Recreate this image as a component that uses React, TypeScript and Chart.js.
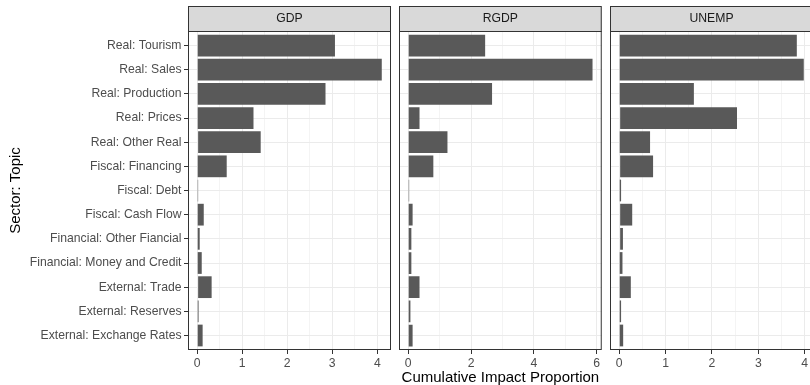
import React, { useEffect, useRef } from 'react';
import { Chart, registerables } from 'chart.js';

Chart.register(...registerables);

// ---- Data ----
const categories = [
  'Real: Tourism',
  'Real: Sales',
  'Real: Production',
  'Real: Prices',
  'Real: Other Real',
  'Fiscal: Financing',
  'Fiscal: Debt',
  'Fiscal: Cash Flow',
  'Financial: Other Fiancial',
  'Financial: Money and Credit',
  'External: Trade',
  'External: Reserves',
  'External: Exchange Rates',
];

const panelTitles = ['GDP', 'RGDP', 'UNEMP'];

const gdpValues = [3.06, 4.1, 2.85, 1.25, 1.41, 0.655, 0.02, 0.145, 0.055, 0.1, 0.32, 0.03, 0.12];
const gdpStarts = [0, 0, 0, 0, 0.02, 0, 0, 0, 0, 0, 0.02, 0, 0];

const rgdpValues = [2.45, 5.87, 2.67, 0.36, 1.25, 0.8, 0.03, 0.14, 0.1, 0.1, 0.36, 0.07, 0.14];
const rgdpStarts = [0, 0, 0, 0, 0, 0, 0, 0, 0, 0, 0, 0, 0];

const unempValues = [3.83, 3.98, 1.61, 2.54, 0.665, 0.73, 0.04, 0.28, 0.08, 0.07, 0.25, 0.04, 0.085];
const unempStarts = [0, 0, 0, 0.02, 0, 0.02, 0, 0.02, 0.02, 0, 0, 0, 0];

const gdpMajorTicks = [0, 1, 2, 3, 4];
const gdpMinorTicks = [0.5, 1.5, 2.5, 3.5];
const rgdpMajorTicks = [0, 2, 4, 6];
const rgdpMinorTicks = [1, 3, 5];
const unempMajorTicks = [0, 1, 2, 3, 4];
const unempMinorTicks = [0.5, 1.5, 2.5, 3.5];

const yAxisTitle = 'Sector: Topic';
const xAxisTitle = 'Cumulative Impact Proportion';

// ---- Styling ----
const FONT = 'Liberation Sans, Arial, Helvetica, sans-serif';
const TICK_SIZE = 12.2;
const TITLE_SIZE = 15;

function stripPlugin(title: string) {
  return {
    id: 'strip_' + title,
    afterDraw(chart: any) {
      const { ctx, chartArea } = chart;
      const { left, right, top, bottom } = chartArea;
      ctx.save();
      // strip
      ctx.fillStyle = '#d9d9d9';
      ctx.fillRect(left, 6, right - left, top - 6);
      ctx.strokeStyle = '#333333';
      ctx.lineWidth = 1;
      ctx.strokeRect(left + 0.5, 6.5, right - left - 1, top - 6);
      ctx.fillStyle = '#1a1a1a';
      ctx.font = `${TICK_SIZE}px ${FONT}`;
      ctx.textAlign = 'center';
      ctx.textBaseline = 'middle';
      ctx.fillText(title, (left + right) / 2, (6 + top) / 2 + 0.5);
      // panel border
      ctx.strokeRect(left + 0.5, top + 0.5, right - left - 1, bottom - top - 1);
      ctx.restore();
    },
  };
}

type PanelProps = {
  title: string;
  values: number[];
  starts: number[];
  major: number[];
  minor: number[];
  showY: boolean;
  showXTitle: boolean;
  left: number;
  width: number;
  yWidth: number;
  padRight: number;
};

function Panel(p: PanelProps) {
  const ref = useRef<HTMLCanvasElement | null>(null);
  useEffect(() => {
    if (!ref.current) return;
    const maxV = Math.max(...p.values);
    const expand = maxV * 0.05;
    const allTicks = [...p.major, ...p.minor].sort((a, b) => a - b);
    const chart = new Chart(ref.current, {
      type: 'bar',
      data: {
        datasets: [
          {
            data: p.values.map((v, i) => ({ x: [p.starts[i], v], y: i })) as any,
            backgroundColor: '#595959',
            borderWidth: 0,
            barPercentage: 0.9,
            categoryPercentage: 1,
          },
        ],
      },
      options: {
        animation: false,
        responsive: false,
        maintainAspectRatio: false,
        devicePixelRatio: 1,
        indexAxis: 'y',
        layout: { padding: { top: 31, left: 0, right: p.padRight, bottom: 0 } },
        plugins: { legend: { display: false }, tooltip: { enabled: false } },
        scales: {
          x: {
            type: 'linear',
            position: 'bottom',
            min: -expand,
            max: maxV + expand,
            offset: false,
            afterBuildTicks: (s: any) => {
              s.ticks = allTicks.map((v) => ({ value: v }));
            },
            afterFit: (s: any) => {
              s.height = 35;
            },
            ticks: {
              autoSkip: false,
              maxRotation: 0,
              padding: 2,
              color: '#4d4d4d',
              font: { family: FONT, size: TICK_SIZE },
              callback: (v: any) => (p.major.includes(Number(v)) ? String(v) : ''),
            },
            grid: {
              color: (c: any) => (p.major.includes(c.tick?.value) ? '#ebebeb' : '#f4f4f4'),
              lineWidth: 1,
              drawTicks: true,
              tickLength: 4,
              tickWidth: 1,
              tickColor: (c: any) => (p.major.includes(c.tick?.value) ? '#333333' : 'rgba(0,0,0,0)'),
              offset: false,
            },
            border: { display: false },
            title: {
              display: p.showXTitle,
              text: xAxisTitle,
              color: '#000000',
              font: { family: FONT, size: TITLE_SIZE },
              padding: { top: 0, bottom: -2 },
            },
          },
          y: {
            type: 'linear',
            reverse: true,
            min: -0.6,
            max: categories.length - 0.4,
            offset: false,
            afterBuildTicks: (s: any) => {
              s.ticks = categories.map((_, i) => ({ value: i }));
            },
            afterFit: (s: any) => {
              s.width = p.yWidth;
            },
            ticks: {
              display: p.showY,
              autoSkip: false,
              padding: 2.5,
              color: '#4d4d4d',
              font: { family: FONT, size: TICK_SIZE },
              callback: (v: any) => categories[Number(v)] ?? '',
            },
            grid: {
              color: '#ebebeb',
              lineWidth: 1,
              drawTicks: p.showY,
              tickLength: 4,
              tickColor: '#333333',
              offset: false,
            },
            border: { display: false },
            title: {
              display: p.showY,
              text: yAxisTitle,
              color: '#000000',
              font: { family: FONT, size: TITLE_SIZE },
              padding: { top: 7, bottom: 0 },
            },
          },
        },
      } as any,
      plugins: [stripPlugin(p.title)],
    });
    return () => chart.destroy();
  }, []);
  return (
    <canvas
      ref={ref}
      width={p.width}
      height={385}
      style={{ position: 'absolute', left: p.left, top: 0, width: p.width, height: 385, display: 'block' }}
    />
  );
}

export default function App() {
  return (
    <div
      style={{
        position: 'fixed',
        left: 0,
        top: 0,
        width: 810,
        height: 385,
        overflow: 'hidden',
        background: '#ffffff',
      }}
    >
      <Panel
        title={panelTitles[0]}
        values={gdpValues}
        starts={gdpStarts}
        major={gdpMajorTicks}
        minor={gdpMinorTicks}
        showY={true}
        showXTitle={false}
        left={0}
        width={392}
        yWidth={188}
        padRight={1}
      />
      <Panel
        title={panelTitles[1]}
        values={rgdpValues}
        starts={rgdpStarts}
        major={rgdpMajorTicks}
        minor={rgdpMinorTicks}
        showY={false}
        showXTitle={true}
        left={399}
        width={203}
        yWidth={0}
        padRight={0}
      />
      <Panel
        title={panelTitles[2]}
        values={unempValues}
        starts={unempStarts}
        major={unempMajorTicks}
        minor={unempMinorTicks}
        showY={false}
        showXTitle={false}
        left={610}
        width={203}
        yWidth={0}
        padRight={0}
      />
    </div>
  );
}
